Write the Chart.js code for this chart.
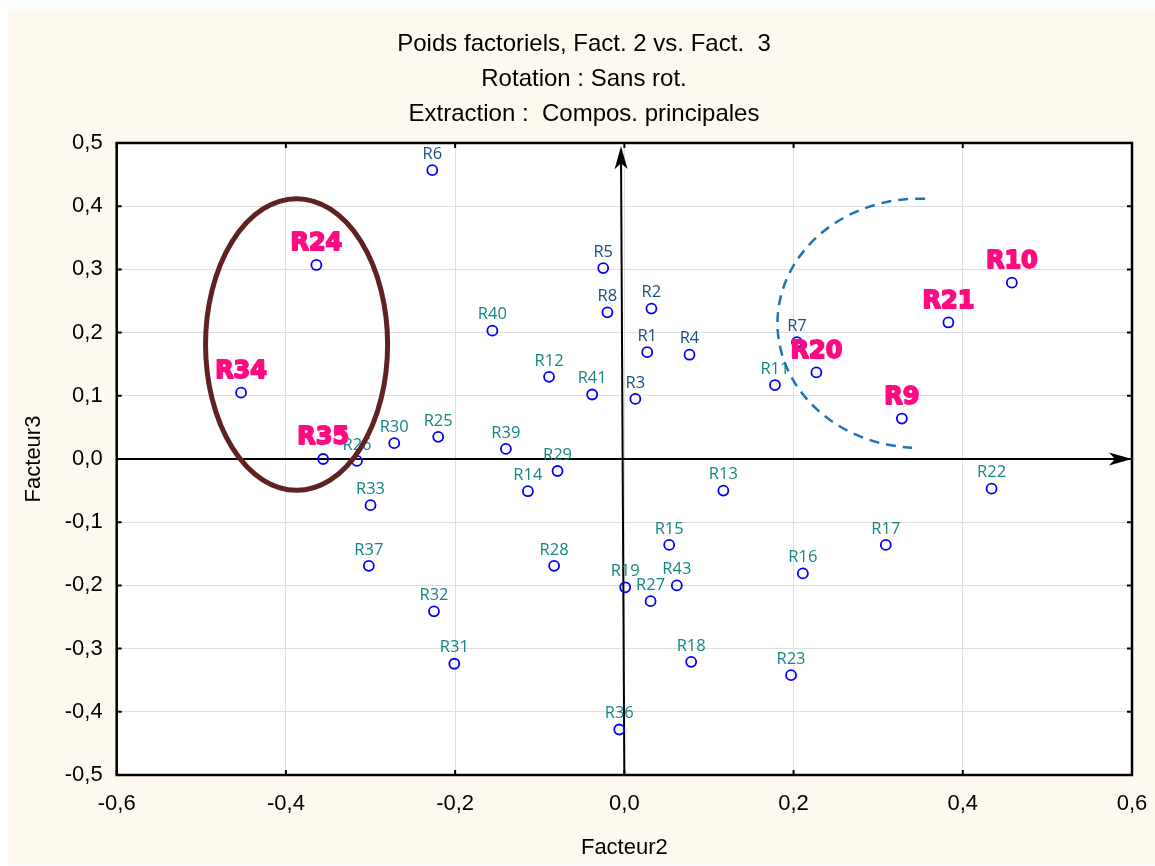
<!DOCTYPE html>
<html lang="fr">
<head>
<meta charset="utf-8">
<title>Poids factoriels, Fact. 2 vs. Fact. 3</title>
<script src="https://cdn.jsdelivr.net/npm/chart.js@4"></script>
<style>
    html, body { margin: 0; padding: 0; background: #ffffff; }
    #cadre { position: absolute; left: 8px; top: 9px; width: 1147px; height: 856px; background: #fdf9ef; }
    canvas { display: block; }
</style>
</head>
<body>
<div id="cadre"><canvas id="graphique" width="1147" height="856"></canvas></div>
<script>
// Données : poids factoriels (Facteur 2 en x, Facteur 3 en y)
const variables = ['R1', 'R2', 'R3', 'R4', 'R5', 'R6', 'R7', 'R8', 'R9', 'R10',
    'R11', 'R12', 'R13', 'R14', 'R15', 'R16', 'R17', 'R18', 'R19', 'R20',
    'R21', 'R22', 'R23', 'R24', 'R25', 'R26', 'R27', 'R28', 'R29', 'R30',
    'R31', 'R32', 'R33', 'R34', 'R35', 'R36', 'R37', 'R39', 'R40', 'R41', 'R43'];
const facteur2 = [0.027, 0.032, 0.013, 0.077, -0.025, -0.227, 0.204, -0.020, 0.328, 0.458,
    0.178, -0.089, 0.117, -0.114, 0.053, 0.211, 0.309, 0.079, 0.001, 0.227,
    0.383, 0.434, 0.197, -0.364, -0.220, -0.316, 0.031, -0.083, -0.079, -0.272,
    -0.201, -0.225, -0.300, -0.453, -0.356, -0.006, -0.302, -0.140, -0.156, -0.038, 0.062];
const facteur3 = [0.169, 0.238, 0.095, 0.165, 0.302, 0.457, 0.185, 0.232, 0.064, 0.279,
    0.117, 0.130, -0.050, -0.051, -0.136, -0.181, -0.136, -0.321, -0.203, 0.137,
    0.216, -0.047, -0.342, 0.307, 0.035, -0.003, -0.225, -0.169, -0.019, 0.025,
    -0.324, -0.241, -0.073, 0.105, 0.000, -0.428, -0.169, 0.016, 0.203, 0.102, -0.200];

// Groupes d'étiquettes
const enEvidence = ['R9', 'R10', 'R20', 'R21', 'R24', 'R34', 'R35'];
const groupeBleu = ['R1', 'R2', 'R3', 'R4', 'R5', 'R6', 'R7', 'R8'];

// Axes
const bornesX = [-0.6, 0.6];
const bornesY = [-0.5, 0.5];
const pasX = 0.2;
const pasY = 0.1;

// Formes ajoutées à la main (en unités des facteurs)
const ellipseGauche = { cx: -0.3874, cy: 0.1812, rx: 0.1076, ry: 0.2307 };
const arcDroite = { cx: 0.3485, cy: 0.2148, rx: 0.1675, ry: 0.1971, debut: -1.529, fin: 1.621 };
const flecheVerticale = { x1: 0.0, y1: -0.5, x2: -0.004, y2: 0.495 };
const flecheHorizontale = { x1: -0.6, y1: 0.0, x2: 0.6, y2: 0.0 };

const titre = ['Poids factoriels, Fact. 2 vs. Fact.  3', 'Rotation : Sans rot.', 'Extraction :  Compos. principales'];

const policeArial = "'Liberation Sans', Arial, sans-serif";
const policeEtroite = "'Liberation Sans Narrow', 'Liberation Sans', Arial, sans-serif";

function formatVirgule(valeur) {
    if (Math.abs(valeur) < 1e-9) valeur = 0;
    return valeur.toFixed(1).replace('.', ',');
}

function dessinerFleche(ctx, x1, y1, x2, y2) {
    const angle = Math.atan2(y2 - y1, x2 - x1);
    const longueur = 23, demi = 6.5, creux = 17;
    const cos = Math.cos(angle), sin = Math.sin(angle);
    ctx.save();
    ctx.strokeStyle = '#000';
    ctx.fillStyle = '#000';
    ctx.lineWidth = 2;
    ctx.beginPath();
    ctx.moveTo(x1, y1);
    ctx.lineTo(x2 - cos * creux, y2 - sin * creux);
    ctx.stroke();
    ctx.beginPath();
    ctx.moveTo(x2, y2);
    ctx.lineTo(x2 - cos * longueur - sin * demi, y2 - sin * longueur + cos * demi);
    ctx.lineTo(x2 - cos * creux, y2 - sin * creux);
    ctx.lineTo(x2 - cos * longueur + sin * demi, y2 - sin * longueur - cos * demi);
    ctx.closePath();
    ctx.fill();
    ctx.restore();
}

const decorPlugin = {
    id: 'decor',
    beforeDraw(chart) {
        const { ctx, chartArea } = chart;
        ctx.save();
        ctx.fillStyle = '#ffffff';
        ctx.fillRect(chartArea.left, chartArea.top, chartArea.right - chartArea.left, chartArea.bottom - chartArea.top);
        ctx.restore();
    },
    beforeDatasetsDraw(chart) {
        const { ctx, chartArea, scales } = chart;
        const sx = scales.x, sy = scales.y;

        // cadre et petites graduations intérieures
        ctx.save();
        ctx.strokeStyle = '#000';
        ctx.lineWidth = 2.5;
        ctx.strokeRect(chartArea.left, chartArea.top, chartArea.right - chartArea.left, chartArea.bottom - chartArea.top);
        ctx.lineWidth = 2;
        sx.ticks.forEach(t => {
            const px = sx.getPixelForValue(t.value);
            ctx.beginPath();
            ctx.moveTo(px, chartArea.bottom); ctx.lineTo(px, chartArea.bottom - 5);
            ctx.moveTo(px, chartArea.top); ctx.lineTo(px, chartArea.top + 5);
            ctx.stroke();
        });
        sy.ticks.forEach(t => {
            const py = sy.getPixelForValue(t.value);
            ctx.beginPath();
            ctx.moveTo(chartArea.left, py); ctx.lineTo(chartArea.left + 5, py);
            ctx.moveTo(chartArea.right, py); ctx.lineTo(chartArea.right - 5, py);
            ctx.stroke();
        });
        ctx.restore();

        // axes fléchés
        dessinerFleche(ctx,
            sx.getPixelForValue(flecheHorizontale.x1), sy.getPixelForValue(flecheHorizontale.y1),
            sx.getPixelForValue(flecheHorizontale.x2), sy.getPixelForValue(flecheHorizontale.y2));
        dessinerFleche(ctx,
            sx.getPixelForValue(flecheVerticale.x1), sy.getPixelForValue(flecheVerticale.y1),
            sx.getPixelForValue(flecheVerticale.x2), sy.getPixelForValue(flecheVerticale.y2));
    },
    afterDatasetsDraw(chart) {
        const { ctx, scales } = chart;
        const sx = scales.x, sy = scales.y;
        const points = chart.getDatasetMeta(0).data;

        // étiquettes ordinaires
        ctx.save();
        ctx.textAlign = 'center';
        ctx.textBaseline = 'middle';
        ctx.font = "16.5px 'Open Sans', sans-serif";
        variables.forEach((nom, i) => {
            if (enEvidence.includes(nom)) return;
            ctx.fillStyle = groupeBleu.includes(nom) ? '#1d4e7e' : '#168581';
            ctx.fillText(nom, points[i].x, points[i].y - 16);
        });
        ctx.restore();

        // ellipse brune
        ctx.save();
        ctx.strokeStyle = '#5e2222';
        ctx.lineWidth = 5;
        ctx.beginPath();
        ctx.ellipse(sx.getPixelForValue(ellipseGauche.cx), sy.getPixelForValue(ellipseGauche.cy),
            Math.abs(sx.getPixelForValue(ellipseGauche.rx) - sx.getPixelForValue(0)),
            Math.abs(sy.getPixelForValue(ellipseGauche.ry) - sy.getPixelForValue(0)), 0, 0, Math.PI * 2);
        ctx.stroke();

        // arc pointillé bleu
        ctx.strokeStyle = '#1c74b8';
        ctx.lineWidth = 2.5;
        ctx.setLineDash([10, 7]);
        ctx.beginPath();
        ctx.ellipse(sx.getPixelForValue(arcDroite.cx), sy.getPixelForValue(arcDroite.cy),
            Math.abs(sx.getPixelForValue(arcDroite.rx) - sx.getPixelForValue(0)),
            Math.abs(sy.getPixelForValue(arcDroite.ry) - sy.getPixelForValue(0)), 0,
            arcDroite.debut, arcDroite.fin, true);
        ctx.stroke();
        ctx.restore();

        // étiquettes mises en évidence
        ctx.save();
        ctx.textAlign = 'center';
        ctx.textBaseline = 'middle';
        ctx.font = "bold 24px 'DejaVu Sans', sans-serif";
        ctx.fillStyle = '#ff0a80';
        ctx.strokeStyle = '#ff0a80';
        ctx.lineWidth = 1.8;
        ctx.lineJoin = 'round';
        variables.forEach((nom, i) => {
            if (!enEvidence.includes(nom)) return;
            ctx.strokeText(nom, points[i].x, points[i].y - 21);
            ctx.fillText(nom, points[i].x, points[i].y - 21);
        });
        ctx.restore();
    }
};

const points = variables.map((nom, i) => ({ x: facteur2[i], y: facteur3[i] }));

new Chart(document.getElementById('graphique'), {
    type: 'scatter',
    data: {
        datasets: [{
            label: 'Poids factoriels',
            data: points,
            pointRadius: 5,
            pointHoverRadius: 5,
            pointBorderWidth: 1.8,
            pointBorderColor: '#0000ff',
            pointBackgroundColor: 'rgba(0,0,0,0)'
        }]
    },
    options: {
        responsive: false,
        animation: false,
        events: [],
        layout: { padding: { left: 5, right: 0, top: 0, bottom: 0 } },
        plugins: {
            legend: { display: false },
            tooltip: { enabled: false },
            title: {
                display: true,
                text: titre,
                color: '#000',
                font: { family: policeEtroite, size: 24, weight: 'normal', lineHeight: 1.458 },
                padding: { top: 18, bottom: 11 }
            }
        },
        scales: {
            x: {
                type: 'linear',
                min: bornesX[0],
                max: bornesX[1],
                afterFit: (scale) => {
                    scale.height = 90;
                    scale.paddingLeft = 0;
                    scale.paddingRight = 23;
                },
                border: { display: false },
                grid: { color: '#dedede', lineWidth: 1, drawTicks: false },
                ticks: {
                    stepSize: pasX,
                    padding: 16,
                    color: '#000',
                    font: { family: policeArial, size: 22 },
                    callback: (v) => formatVirgule(v)
                },
                title: {
                    display: true,
                    text: 'Facteur2',
                    color: '#000',
                    font: { family: policeArial, size: 22 },
                    padding: { top: 0, bottom: 4 }
                }
            },
            y: {
                type: 'linear',
                min: bornesY[0],
                max: bornesY[1],
                afterFit: (scale) => { scale.width = 103.7; },
                border: { display: false },
                grid: { color: '#dedede', lineWidth: 1, drawTicks: false },
                ticks: {
                    stepSize: pasY,
                    padding: 14,
                    color: '#000',
                    font: { family: policeArial, size: 22 },
                    callback: (v) => formatVirgule(v)
                },
                title: {
                    display: true,
                    text: 'Facteur3',
                    color: '#000',
                    font: { family: policeArial, size: 22 },
                    padding: { top: 8, bottom: 0 }
                }
            }
        }
    },
    plugins: [decorPlugin]
});
</script>
</body>
</html>
